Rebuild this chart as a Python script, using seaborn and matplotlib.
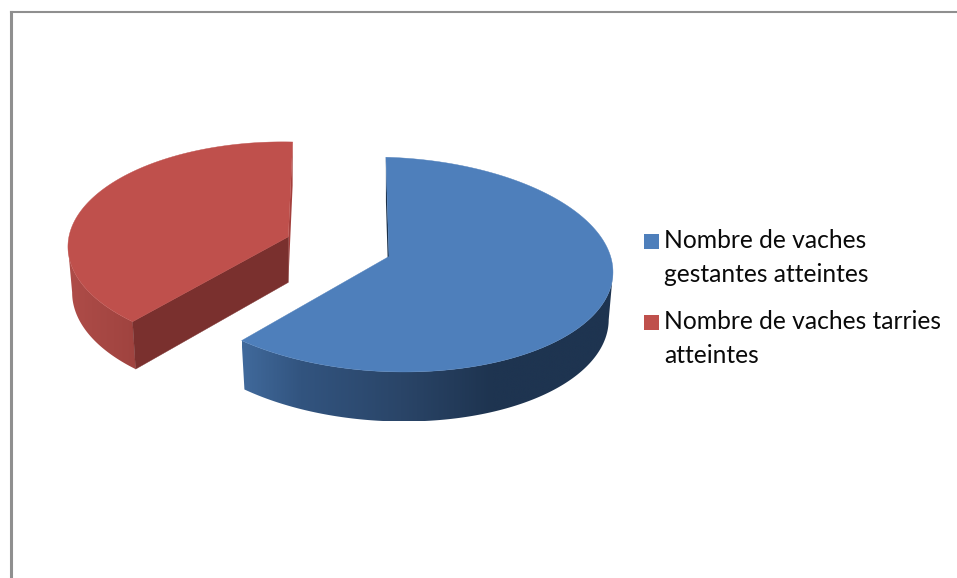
import numpy as np
import matplotlib
matplotlib.use("Agg")
import matplotlib.pyplot as plt
from matplotlib.patches import Polygon, Rectangle
import seaborn as sns

# Herd counts per group of affected cows
categories = ["Nombre de vaches\ngestantes atteintes", "Nombre de vaches tarries\natteintes"]
affected_cows = [16, 10]

top_colors = ["#4E7FBB", "#BF504C"]

sns.set_theme(style="white")
plt.rcParams["font.family"] = ["Lato", "DejaVu Sans"]

W, H = 957, 578
fig = plt.figure(figsize=(W / 100, H / 100), dpi=100, facecolor="white")
ax = fig.add_axes([10.5 / W, 0, (W - 10.5) / W, (H - 11.5) / H])
ax.set_xticks([])
ax.set_yticks([])
ax.set_facecolor("white")
sns.despine(ax=ax, top=False, right=True, bottom=True)
ax.spines["left"].set(color="#8F8F8F", linewidth=2.2)
ax.spines["top"].set(color="#8F8F8F", linewidth=1.5)

spans = 360.0 * np.array(affected_cows) / np.sum(affected_cows)

# Projected rim of each exploded slice: x = cx + a*sin + b*cos, y = cy + d*sin - c*cos
blue_rim = dict(cx=388.5, cy=264.5, a=224.3, b=-8.5, c=107.4, d=3.5, apex=(389.0, 256.5))
red_rim = dict(cx=282.4, cy=246.6, a=214.2, b=10.3, c=104.6, d=4.9, apex=(288.3, 236.8))


def rim(p, theta):
    t = np.radians(theta)
    return (p["cx"] + p["a"] * np.sin(t) + p["b"] * np.cos(t),
            p["cy"] + p["d"] * np.sin(t) - p["c"] * np.cos(t))


def lowered(p, x, y, base, shrink=0.981, slope=0.022):
    # Lower face of the extruded slice, slightly smaller through perspective
    ax0, ay0 = p["apex"]
    return ax0 + shrink * (np.asarray(x) - ax0), np.asarray(y) + base + slope * (np.asarray(y) - ay0)


def draw_slice(p, start, span, base, face, stops, stop_x, inner_far, inner_near):
    theta = np.linspace(start, start + span, 240)
    x, y = rim(p, theta)
    xb, yb = lowered(p, x, y, base)
    ax0, ay0 = p["apex"]
    axb, ayb = lowered(p, ax0, ay0, base)

    # Back cut face, seen as a thin sliver
    i_far = 0 if start < 90 else -1
    ax.fill([x[i_far], ax0, axb, xb[i_far]], [y[i_far], ay0, ayb, yb[i_far]],
            color=inner_far, lw=0, zorder=1)

    # Only the part of the wall below the widest point of the rim faces the viewer
    if start < 90:
        seen = np.arange(np.argmax(x), len(x))
    else:
        seen = np.arange(0, np.argmin(x) + 1)

    # Outer wall with its horizontal shading, clipped to the wall outline
    x0, x1 = min(x.min(), xb.min()), max(x.max(), xb.max())
    y0, y1 = min(y.min(), yb.min()), max(y.max(), yb.max())
    columns = np.linspace(x0, x1, 512)
    u = np.interp(columns, stop_x, np.linspace(0, 1, len(stop_x)))
    ramp = np.array(sns.blend_palette(stops, 256))[(u * 255).astype(int), :3]
    image = ax.imshow(ramp[np.newaxis, :, :], extent=(x0, x1, y1, y0), aspect="auto",
                      interpolation="bilinear", zorder=2)
    image.set_clip_path(Polygon(np.c_[np.r_[x[seen], xb[seen][::-1]], np.r_[y[seen], yb[seen][::-1]]],
                                closed=True, transform=ax.transData))

    # Front cut face, only visible on the slice that opens towards the viewer
    if inner_near is not None:
        ax.fill([x[0], ax0, axb, xb[0]], [y[0], ay0, ayb, yb[0]],
                color=inner_near, lw=0.3, zorder=3)

    # Upper surface
    ax.fill(np.r_[ax0, x], np.r_[ay0, y], color=face, lw=0.3, zorder=4)


blue_start = 1.5
draw_slice(blue_rim, blue_start, spans[0], 47.0, top_colors[0],
           ["#40699B", "#32547F", "#2A4568", "#1E3450", "#1E3450"],
           [243, 300, 400, 490, 620], "#1B3048", None)

red_start = 360.0 - spans[1]
draw_slice(red_rim, red_start, spans[1], 45.6, top_colors[1],
           ["#AE4C48", "#9F433F"], [70, 136], "#A33F3C", "#7A302E")

# Legend: a colour square beside the first line of each wrapped label
legend_baselines = [(248, 282), (329, 363)]
for label, color, rows in zip(categories, top_colors, legend_baselines):
    ax.add_patch(Rectangle((644, rows[0] - 14), 15, 15, facecolor=color, edgecolor="none", zorder=5))
    for line, baseline in zip(label.split("\n"), rows):
        ax.text(664.5, baseline, line, fontsize=17.7, color="#0A0A0A", va="baseline", ha="left", zorder=5)

ax.set_xlim(10.5, W)
ax.set_ylim(H, 11.5)

fig.savefig("out.png", dpi=100, facecolor="white")
